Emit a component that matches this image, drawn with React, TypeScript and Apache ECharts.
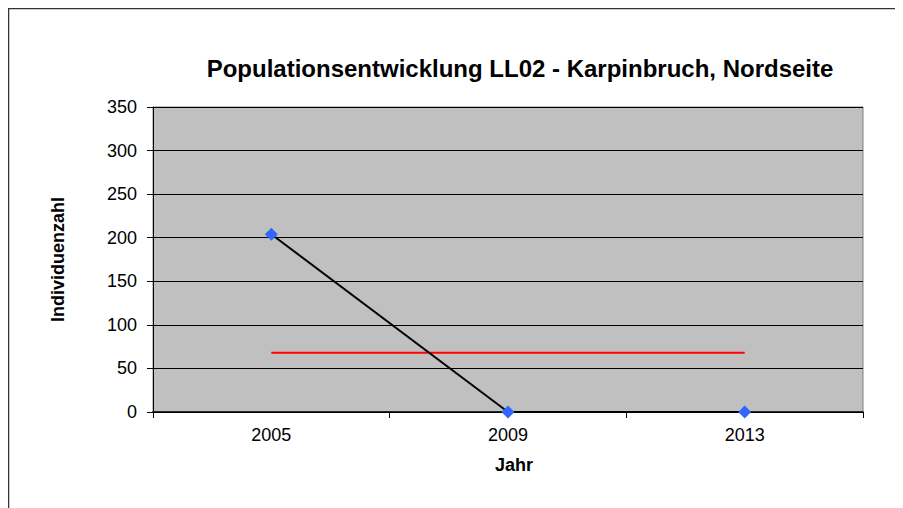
import React, { useEffect, useRef } from "react";
import * as echarts from "echarts";

const years = ["2005", "2009", "2013"];
const individuals = [204, 0, 0];
const meanLine = [68, 68, 68];
const yTicks = { min: 0, max: 350, interval: 50 };

export default function App() {
  const ref = useRef<HTMLDivElement>(null);
  useEffect(() => {
    if (!ref.current) return;
    const chart = echarts.init(ref.current, null, { renderer: "svg" });
    const font = "Liberation Sans, Arial, sans-serif";
    chart.setOption({
      animation: false,
      backgroundColor: "#ffffff",
      title: {
        text: "Populationsentwicklung LL02 - Karpinbruch, Nordseite",
        left: 507,
        textAlign: "center",
        top: 43,
        textStyle: { fontFamily: font, fontSize: 24, fontWeight: "bold", color: "#000" },
      },
      graphic: [
        {
          type: "rect",
          shape: { x: 0.5, y: 0.5, width: 1000, height: 1000 },
          style: { fill: "none", stroke: "#333", lineWidth: 1.5 },
          silent: true,
        },
      ],
      grid: {
        left: 145,
        top: 99,
        width: 710,
        height: 305,
        show: true,
        backgroundColor: "#C0C0C0",
        borderColor: "#808080",
        borderWidth: 1,
      },
      xAxis: {
        type: "category",
        data: years,
        boundaryGap: true,
        name: "Jahr",
        nameLocation: "middle",
        nameGap: 44,
        nameTextStyle: { fontFamily: font, fontSize: 18, fontWeight: "bold", color: "#000", padding: [0, 0, 0, 12] },
        axisLine: { lineStyle: { color: "#000", width: 1.5 } },
        axisTick: { show: true, length: 6, lineStyle: { color: "#000" } },
        axisLabel: { fontFamily: font, fontSize: 18, color: "#000", margin: 14 },
        splitLine: { show: false },
      },
      yAxis: {
        type: "value",
        min: yTicks.min,
        max: yTicks.max,
        interval: yTicks.interval,
        name: "Individuenzahl",
        nameLocation: "middle",
        nameGap: 86,
        nameTextStyle: { fontFamily: font, fontSize: 18, fontWeight: "bold", color: "#000" },
        axisLine: { show: true, lineStyle: { color: "#000", width: 1 } },
        axisTick: { show: true, length: 6, lineStyle: { color: "#000" } },
        axisLabel: { fontFamily: font, fontSize: 18, color: "#000", margin: 16 },
        splitLine: { show: true, lineStyle: { color: "#000", width: 1 } },
      },
      series: [
        {
          type: "line",
          data: meanLine,
          symbol: "none",
          lineStyle: { color: "#FF0000", width: 2 },
          z: 2,
        },
        {
          type: "line",
          data: individuals,
          symbol: "diamond",
          symbolSize: 13,
          itemStyle: { color: "#3366FF" },
          lineStyle: { color: "#000", width: 2 },
          z: 3,
        },
      ],
    });
    return () => chart.dispose();
  }, []);
  return <div ref={ref} style={{ width: 895, height: 500 }} />;
}
